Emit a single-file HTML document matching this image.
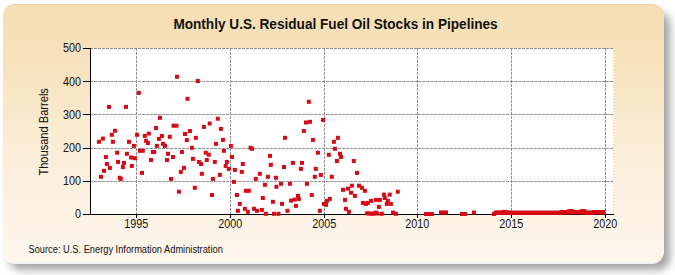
<!DOCTYPE html>
<html><head><meta charset="utf-8"><style>
html,body{margin:0;padding:0;width:675px;height:275px;overflow:hidden;background:#fff;}
#panel{position:absolute;left:3px;top:4px;width:661px;height:258px;border-radius:12px;
background:linear-gradient(to bottom,#F5DEB3 0px,#F7E2BD 64px,#FAEBD1 125px,#FCF0E0 185px,#FEF6EA 244px,#FEF7EC 258px);
box-shadow:inset 0 1px 0 rgba(120,100,40,0.08),0 2px 0 rgba(255,255,255,0.85),6px 8px 8px rgba(0,0,0,0.36);}
svg{position:absolute;left:0;top:0;}
text{font-family:"Liberation Sans",sans-serif;}
</style></head><body>
<div id="panel"></div>
<svg width="675" height="275" viewBox="0 0 675 275">
<rect x="90" y="48" width="524" height="166" fill="#fff"/>
<g stroke="#909090" stroke-width="1" stroke-dasharray="3 1" fill="none"><line x1="136.5" y1="48" x2="136.5" y2="214"/><line x1="230.5" y1="48" x2="230.5" y2="214"/><line x1="324.5" y1="48" x2="324.5" y2="214"/><line x1="417.5" y1="48" x2="417.5" y2="214"/><line x1="511.5" y1="48" x2="511.5" y2="214"/><line x1="605.5" y1="48" x2="605.5" y2="214"/><line x1="90" y1="181.5" x2="614" y2="181.5"/><line x1="90" y1="148.5" x2="614" y2="148.5"/><line x1="90" y1="114.5" x2="614" y2="114.5"/><line x1="90" y1="81.5" x2="614" y2="81.5"/><line x1="90" y1="48.5" x2="614" y2="48.5"/></g>
<line x1="613.5" y1="48" x2="613.5" y2="214" stroke="#d0d0d0" stroke-dasharray="1 2"/>
<g stroke="#000" stroke-width="1" fill="none">
<line x1="90.5" y1="48" x2="90.5" y2="214.5"/>
<line x1="90" y1="214.5" x2="614" y2="214.5"/>
<line x1="83" y1="214.5" x2="90" y2="214.5"/><line x1="83" y1="181.5" x2="90" y2="181.5"/><line x1="83" y1="148.5" x2="90" y2="148.5"/><line x1="83" y1="114.5" x2="90" y2="114.5"/><line x1="83" y1="81.5" x2="90" y2="81.5"/><line x1="83" y1="48.5" x2="90" y2="48.5"/><line x1="136.5" y1="214" x2="136.5" y2="218"/><line x1="230.5" y1="214" x2="230.5" y2="218"/><line x1="324.5" y1="214" x2="324.5" y2="218"/><line x1="417.5" y1="214" x2="417.5" y2="218"/><line x1="511.5" y1="214" x2="511.5" y2="218"/><line x1="605.5" y1="214" x2="605.5" y2="218"/></g>
<g fill="#D80A16"><rect x="175" y="74.8" width="4" height="4"/><rect x="195.8" y="79" width="4" height="4"/><rect x="136.8" y="90.9" width="4" height="4"/><rect x="107" y="104.9" width="4" height="4"/><rect x="124" y="104.9" width="4" height="4"/><rect x="185.5" y="96.8" width="4" height="4"/><rect x="158" y="115.8" width="4" height="4"/><rect x="215.8" y="116.7" width="4" height="4"/><rect x="306.8" y="99.8" width="4" height="4"/><rect x="321" y="117.9" width="4" height="4"/><rect x="154" y="126" width="4" height="4"/><rect x="171.5" y="123.7" width="4" height="4"/><rect x="174.5" y="123.7" width="4" height="4"/><rect x="113" y="128.8" width="4" height="4"/><rect x="109.8" y="132.8" width="4" height="4"/><rect x="100.9" y="136.6" width="4" height="4"/><rect x="96.9" y="139.8" width="4" height="4"/><rect x="110.9" y="139.8" width="4" height="4"/><rect x="127" y="139.8" width="4" height="4"/><rect x="135" y="132.8" width="4" height="4"/><rect x="131.9" y="143.9" width="4" height="4"/><rect x="142.8" y="133.9" width="4" height="4"/><rect x="146.8" y="131.6" width="4" height="4"/><rect x="144.1" y="138.8" width="4" height="4"/><rect x="145.9" y="141" width="4" height="4"/><rect x="159.9" y="133.9" width="4" height="4"/><rect x="156.9" y="136.9" width="4" height="4"/><rect x="154.9" y="143.9" width="4" height="4"/><rect x="161" y="141.8" width="4" height="4"/><rect x="163" y="143.9" width="4" height="4"/><rect x="167.8" y="134.8" width="4" height="4"/><rect x="183" y="132" width="4" height="4"/><rect x="184.8" y="138.1" width="4" height="4"/><rect x="115.1" y="150.7" width="4" height="4"/><rect x="124.9" y="151.8" width="4" height="4"/><rect x="137.9" y="148.8" width="4" height="4"/><rect x="140.8" y="148.8" width="4" height="4"/><rect x="151" y="150" width="4" height="4"/><rect x="152.2" y="150" width="4" height="4"/><rect x="166" y="151.8" width="4" height="4"/><rect x="179.9" y="150" width="4" height="4"/><rect x="103.9" y="155" width="4" height="4"/><rect x="129.2" y="155.5" width="4" height="4"/><rect x="132.9" y="156.2" width="4" height="4"/><rect x="149" y="158" width="4" height="4"/><rect x="171" y="155" width="4" height="4"/><rect x="165" y="158" width="4" height="4"/><rect x="201.9" y="124.9" width="4" height="4"/><rect x="218.9" y="126.9" width="4" height="4"/><rect x="187.9" y="129" width="4" height="4"/><rect x="193.9" y="135.8" width="4" height="4"/><rect x="220.9" y="137.9" width="4" height="4"/><rect x="214" y="141.8" width="4" height="4"/><rect x="228.9" y="143.9" width="4" height="4"/><rect x="189.9" y="145.8" width="4" height="4"/><rect x="248.6" y="145.8" width="4" height="4"/><rect x="250.1" y="146.8" width="4" height="4"/><rect x="203.7" y="150.7" width="4" height="4"/><rect x="206.8" y="152.7" width="4" height="4"/><rect x="221.9" y="148.8" width="4" height="4"/><rect x="190.9" y="156.9" width="4" height="4"/><rect x="230" y="155" width="4" height="4"/><rect x="268" y="153.9" width="4" height="4"/><rect x="207.7" y="121.5" width="4" height="4"/><rect x="204.8" y="158" width="4" height="4"/><rect x="304" y="120.5" width="4" height="4"/><rect x="308" y="119.8" width="4" height="4"/><rect x="301.9" y="129" width="4" height="4"/><rect x="283" y="135.8" width="4" height="4"/><rect x="310.9" y="137.9" width="4" height="4"/><rect x="335.9" y="135.8" width="4" height="4"/><rect x="331.9" y="139.8" width="4" height="4"/><rect x="332.9" y="146.8" width="4" height="4"/><rect x="315.9" y="150.7" width="4" height="4"/><rect x="326.8" y="152.8" width="4" height="4"/><rect x="338" y="151.8" width="4" height="4"/><rect x="339" y="155" width="4" height="4"/><rect x="104.9" y="162" width="4" height="4"/><rect x="107.9" y="165.9" width="4" height="4"/><rect x="116" y="159.9" width="4" height="4"/><rect x="121.9" y="160.9" width="4" height="4"/><rect x="120.9" y="165" width="4" height="4"/><rect x="129.8" y="163.9" width="4" height="4"/><rect x="102" y="168.8" width="4" height="4"/><rect x="99" y="174.8" width="4" height="4"/><rect x="117.7" y="175.8" width="4" height="4"/><rect x="118.8" y="176.9" width="4" height="4"/><rect x="140" y="170.9" width="4" height="4"/><rect x="169" y="176.9" width="4" height="4"/><rect x="182" y="165.9" width="4" height="4"/><rect x="178.8" y="169.9" width="4" height="4"/><rect x="176.9" y="189.7" width="4" height="4"/><rect x="196.9" y="159.9" width="4" height="4"/><rect x="199" y="162" width="4" height="4"/><rect x="212.8" y="159.9" width="4" height="4"/><rect x="224.9" y="159.9" width="4" height="4"/><rect x="223.7" y="163.9" width="4" height="4"/><rect x="226.8" y="166.9" width="4" height="4"/><rect x="240.8" y="162" width="4" height="4"/><rect x="268.8" y="162.9" width="4" height="4"/><rect x="232.9" y="167.9" width="4" height="4"/><rect x="239.8" y="169.9" width="4" height="4"/><rect x="199.8" y="171.8" width="4" height="4"/><rect x="217.9" y="172.9" width="4" height="4"/><rect x="257.8" y="171.8" width="4" height="4"/><rect x="265.9" y="174.8" width="4" height="4"/><rect x="273.9" y="175.8" width="4" height="4"/><rect x="210.9" y="176.9" width="4" height="4"/><rect x="231.9" y="179.9" width="4" height="4"/><rect x="253.8" y="176.9" width="4" height="4"/><rect x="262.9" y="182.8" width="4" height="4"/><rect x="192.8" y="185.8" width="4" height="4"/><rect x="243.8" y="188.8" width="4" height="4"/><rect x="246.8" y="188.8" width="4" height="4"/><rect x="274.4" y="184.8" width="4" height="4"/><rect x="210" y="193" width="4" height="4"/><rect x="234.9" y="193" width="4" height="4"/><rect x="282" y="165" width="4" height="4"/><rect x="290.9" y="160.9" width="4" height="4"/><rect x="300" y="160.9" width="4" height="4"/><rect x="298.9" y="166.9" width="4" height="4"/><rect x="313.8" y="166.9" width="4" height="4"/><rect x="318.9" y="172.9" width="4" height="4"/><rect x="312.8" y="174.8" width="4" height="4"/><rect x="334.9" y="159" width="4" height="4"/><rect x="351.8" y="159" width="4" height="4"/><rect x="355" y="170.9" width="4" height="4"/><rect x="329.8" y="174.8" width="4" height="4"/><rect x="279" y="181.8" width="4" height="4"/><rect x="287.9" y="181.8" width="4" height="4"/><rect x="304.9" y="181.8" width="4" height="4"/><rect x="341" y="187.8" width="4" height="4"/><rect x="346" y="186.7" width="4" height="4"/><rect x="349.9" y="183.7" width="4" height="4"/><rect x="349" y="190.7" width="4" height="4"/><rect x="356.9" y="183.7" width="4" height="4"/><rect x="359.9" y="185.8" width="4" height="4"/><rect x="362.9" y="188.8" width="4" height="4"/><rect x="395.8" y="189.7" width="4" height="4"/><rect x="381.9" y="192.6" width="4" height="4"/><rect x="387.7" y="192.6" width="4" height="4"/><rect x="260.8" y="196" width="4" height="4"/><rect x="270.9" y="199.8" width="4" height="4"/><rect x="237.8" y="201.9" width="4" height="4"/><rect x="235.9" y="208.8" width="4" height="4"/><rect x="242.9" y="206.8" width="4" height="4"/><rect x="245.9" y="209.8" width="4" height="4"/><rect x="252" y="206.8" width="4" height="4"/><rect x="255" y="208.8" width="4" height="4"/><rect x="259.9" y="207.9" width="4" height="4"/><rect x="263.9" y="211.8" width="4" height="4"/><rect x="272" y="211.8" width="4" height="4"/><rect x="276.5" y="211.8" width="4" height="4"/><rect x="280" y="201.9" width="4" height="4"/><rect x="285.4" y="208.8" width="4" height="4"/><rect x="289" y="198.6" width="4" height="4"/><rect x="292.8" y="197.6" width="4" height="4"/><rect x="296" y="193.9" width="4" height="4"/><rect x="296.8" y="196.9" width="4" height="4"/><rect x="293.9" y="203.9" width="4" height="4"/><rect x="309.8" y="193" width="4" height="4"/><rect x="317.9" y="208.8" width="4" height="4"/><rect x="321.9" y="201.9" width="4" height="4"/><rect x="324" y="202.8" width="4" height="4"/><rect x="324.9" y="198.9" width="4" height="4"/><rect x="327.8" y="196.9" width="4" height="4"/><rect x="352.9" y="193.9" width="4" height="4"/><rect x="343" y="197.9" width="4" height="4"/><rect x="360.9" y="200.9" width="4" height="4"/><rect x="363.9" y="201.9" width="4" height="4"/><rect x="343.9" y="206.8" width="4" height="4"/><rect x="346.9" y="209.8" width="4" height="4"/><rect x="365.1" y="211.3" width="4" height="4"/><rect x="382.8" y="196" width="4" height="4"/><rect x="366" y="200.9" width="4" height="4"/><rect x="369" y="198.9" width="4" height="4"/><rect x="373.9" y="197.9" width="4" height="4"/><rect x="377.9" y="197.9" width="4" height="4"/><rect x="385.8" y="198.9" width="4" height="4"/><rect x="384.8" y="201.9" width="4" height="4"/><rect x="388.9" y="201.9" width="4" height="4"/><rect x="376.9" y="204.9" width="4" height="4"/><rect x="370" y="211.8" width="4" height="4"/><rect x="373.9" y="210.6" width="4" height="4"/><rect x="379.8" y="211.8" width="4" height="4"/><rect x="391" y="210.6" width="4" height="4"/><rect x="394" y="211.8" width="4" height="4"/><rect x="367.3" y="211.5" width="4" height="4"/><rect x="372" y="211.5" width="4" height="4"/><rect x="375.1" y="211.5" width="4" height="4"/><rect x="424" y="212" width="4" height="4"/><rect x="426" y="212" width="4" height="4"/><rect x="428" y="212" width="4" height="4"/><rect x="430" y="212" width="4" height="4"/><rect x="439" y="210.5" width="4" height="4"/><rect x="441.5" y="210.5" width="4" height="4"/><rect x="444" y="210.5" width="4" height="4"/><rect x="460" y="212" width="4" height="4"/><rect x="463" y="212" width="4" height="4"/><rect x="472" y="210.5" width="4" height="4"/><rect x="492" y="212" width="4" height="4"/><rect x="493.6" y="210.6" width="4" height="4"/><rect x="495.2" y="210.6" width="4" height="4"/><rect x="496.7" y="210.6" width="4" height="4"/><rect x="498.3" y="210.6" width="4" height="4"/><rect x="499.8" y="210.6" width="4" height="4"/><rect x="501.4" y="210.3" width="4" height="4"/><rect x="503" y="210.3" width="4" height="4"/><rect x="504.5" y="210.3" width="4" height="4"/><rect x="506.1" y="210.8" width="4" height="4"/><rect x="507.6" y="210.8" width="4" height="4"/><rect x="509.2" y="210.8" width="4" height="4"/><rect x="510.8" y="210.8" width="4" height="4"/><rect x="512.3" y="210.8" width="4" height="4"/><rect x="513.9" y="210.8" width="4" height="4"/><rect x="515.4" y="210.8" width="4" height="4"/><rect x="517" y="210.8" width="4" height="4"/><rect x="518.6" y="210.8" width="4" height="4"/><rect x="520.1" y="210.8" width="4" height="4"/><rect x="521.7" y="210.8" width="4" height="4"/><rect x="523.2" y="210.8" width="4" height="4"/><rect x="524.8" y="210.8" width="4" height="4"/><rect x="526.4" y="210.8" width="4" height="4"/><rect x="527.9" y="210.8" width="4" height="4"/><rect x="529.5" y="210.8" width="4" height="4"/><rect x="531.1" y="210.8" width="4" height="4"/><rect x="532.6" y="210.8" width="4" height="4"/><rect x="534.2" y="210.8" width="4" height="4"/><rect x="535.7" y="210.8" width="4" height="4"/><rect x="537.3" y="210.8" width="4" height="4"/><rect x="538.9" y="210.8" width="4" height="4"/><rect x="540.4" y="210.8" width="4" height="4"/><rect x="542" y="210.8" width="4" height="4"/><rect x="543.5" y="210.8" width="4" height="4"/><rect x="545.1" y="210.8" width="4" height="4"/><rect x="546.7" y="210.8" width="4" height="4"/><rect x="548.2" y="210.8" width="4" height="4"/><rect x="549.8" y="210.8" width="4" height="4"/><rect x="551.3" y="210.8" width="4" height="4"/><rect x="552.9" y="210.8" width="4" height="4"/><rect x="554.5" y="210.8" width="4" height="4"/><rect x="556" y="210.8" width="4" height="4"/><rect x="557.6" y="210.8" width="4" height="4"/><rect x="559.1" y="210.1" width="4" height="4"/><rect x="560.7" y="210.1" width="4" height="4"/><rect x="562.3" y="210.1" width="4" height="4"/><rect x="563.8" y="210.1" width="4" height="4"/><rect x="565.4" y="210.1" width="4" height="4"/><rect x="566.9" y="209.2" width="4" height="4"/><rect x="568.5" y="209.2" width="4" height="4"/><rect x="570.1" y="209.2" width="4" height="4"/><rect x="571.6" y="210" width="4" height="4"/><rect x="573.2" y="210" width="4" height="4"/><rect x="574.7" y="210" width="4" height="4"/><rect x="576.3" y="210" width="4" height="4"/><rect x="577.9" y="210" width="4" height="4"/><rect x="579.4" y="209.2" width="4" height="4"/><rect x="581" y="209.2" width="4" height="4"/><rect x="582.5" y="209.2" width="4" height="4"/><rect x="584.1" y="210.7" width="4" height="4"/><rect x="585.7" y="210.7" width="4" height="4"/><rect x="587.2" y="210.7" width="4" height="4"/><rect x="588.8" y="210.7" width="4" height="4"/><rect x="590.4" y="210.7" width="4" height="4"/><rect x="591.9" y="210" width="4" height="4"/><rect x="593.5" y="210" width="4" height="4"/><rect x="595" y="210" width="4" height="4"/><rect x="596.6" y="210" width="4" height="4"/><rect x="598.2" y="210" width="4" height="4"/><rect x="599.7" y="210" width="4" height="4"/><rect x="601.3" y="210" width="4" height="4"/><rect x="502.6" y="209.8" width="4" height="4"/><rect x="496" y="211.2" width="109.4" height="3.3"/></g>
<g font-size="12" fill="#111"><text x="75.1" y="218.3" textLength="6" lengthAdjust="spacingAndGlyphs">0</text><text x="63.1" y="185.1" textLength="18" lengthAdjust="spacingAndGlyphs">100</text><text x="63.1" y="151.9" textLength="18" lengthAdjust="spacingAndGlyphs">200</text><text x="63.1" y="118.7" textLength="18" lengthAdjust="spacingAndGlyphs">300</text><text x="63.1" y="85.5" textLength="18" lengthAdjust="spacingAndGlyphs">400</text><text x="63.1" y="52.3" textLength="18" lengthAdjust="spacingAndGlyphs">500</text> <text x="124.3" y="228" textLength="23.9" lengthAdjust="spacingAndGlyphs">1995</text><text x="218.3" y="228" textLength="23.9" lengthAdjust="spacingAndGlyphs">2000</text><text x="312.3" y="228" textLength="23.9" lengthAdjust="spacingAndGlyphs">2005</text><text x="405.3" y="228" textLength="23.9" lengthAdjust="spacingAndGlyphs">2010</text><text x="499.3" y="228" textLength="23.9" lengthAdjust="spacingAndGlyphs">2015</text><text x="593.3" y="228" textLength="23.9" lengthAdjust="spacingAndGlyphs">2020</text></g>
<text x="173.4" y="29" font-size="14" font-weight="bold" fill="#111" textLength="324.3" lengthAdjust="spacingAndGlyphs">Monthly U.S. Residual Fuel Oil Stocks in Pipelines</text>
<text transform="translate(48,175.6) rotate(-90)" font-size="12.2" fill="#111" textLength="87.5" lengthAdjust="spacingAndGlyphs">Thousand Barrels</text>
<text x="28.5" y="252.9" font-size="10" fill="#111" textLength="194.3" lengthAdjust="spacingAndGlyphs">Source: U.S. Energy Information Administration</text>
</svg>
</body></html>
